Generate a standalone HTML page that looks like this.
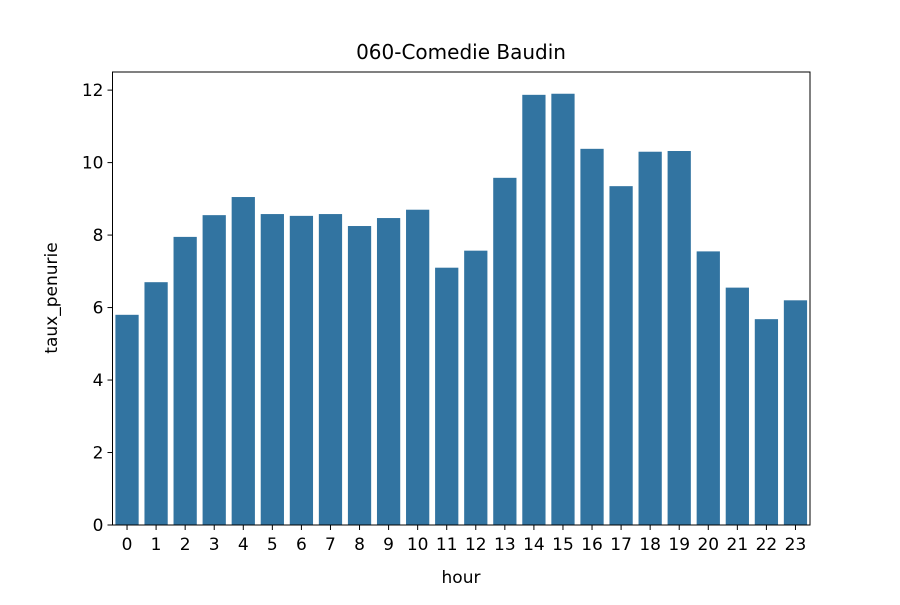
<!DOCTYPE html>
<html><head><meta charset="utf-8"><style>
body{margin:0;background:#fff;}
svg text{font-family:"DejaVu Sans","Liberation Sans",sans-serif;fill:#000;}
</style></head><body>
<svg id="chart" width="900" height="600" xmlns="http://www.w3.org/2000/svg">
<rect width="900" height="600" fill="#fff"/>
<g id="bars"></g>
<g id="xticks"></g>
<g id="yticks"></g>
<rect x="112.5" y="72" width="697.5" height="453" fill="none" stroke="#000" stroke-width="1"/>
<text x="461" y="59" font-size="20" text-anchor="middle">060-Comedie Baudin</text>
<text x="461" y="583" font-size="17" text-anchor="middle">hour</text>
<text x="57" y="298" font-size="17" text-anchor="middle" transform="rotate(-90 57 298)">taux_penurie</text>
</svg>
<script>
const categories=["0","1","2","3","4","5","6","7","8","9","10","11","12","13","14","15","16","17","18","19","20","21","22","23"];
const values=[5.8,6.7,7.95,8.55,9.05,8.58,8.53,8.58,8.25,8.47,8.7,7.1,7.57,9.58,11.87,11.9,10.38,9.35,10.3,10.32,7.55,6.55,5.68,6.2];
const yTicks=[0,2,4,6,8,10,12];
const L=112.5,R=810,T=72,B=525,yMax=12.5;
const ns="http://www.w3.org/2000/svg";
const step=(R-L)/categories.length;
const xs=i=>L+step*(i+0.5);
const ys=v=>B-(v/yMax)*(B-T);
const bars=document.getElementById('bars'),xt=document.getElementById('xticks'),yt=document.getElementById('yticks');
values.forEach((v,i)=>{
  const r=document.createElementNS(ns,'rect');
  r.setAttribute('x',xs(i)-step*0.4);r.setAttribute('width',step*0.8);
  r.setAttribute('y',ys(v));r.setAttribute('height',B-ys(v));r.setAttribute('fill','#3274a1');
  
  
  bars.appendChild(r);
});
categories.forEach((c,i)=>{
  const l=document.createElementNS(ns,'line');
  l.setAttribute('x1',xs(i));l.setAttribute('x2',xs(i));l.setAttribute('y1',B);l.setAttribute('y2',B+5);l.setAttribute('stroke','#000');
  
  
  xt.appendChild(l);
  const t=document.createElementNS(ns,'text');
  t.setAttribute('x',xs(i));t.setAttribute('y',B+25);t.setAttribute('font-size','17');t.setAttribute('text-anchor','middle');
  t.textContent=c;
  
  
  xt.appendChild(t);
});
yTicks.forEach(v=>{
  const l=document.createElementNS(ns,'line');
  l.setAttribute('x1',L-5);l.setAttribute('x2',L);l.setAttribute('y1',ys(v));l.setAttribute('y2',ys(v));l.setAttribute('stroke','#000');
  
  
  yt.appendChild(l);
  const t=document.createElementNS(ns,'text');
  t.setAttribute('x',L-9);t.setAttribute('y',ys(v)+6);t.setAttribute('font-size','17');t.setAttribute('text-anchor','end');
  t.textContent=v;
  
  
  yt.appendChild(t);
});
</script>
</body></html>
